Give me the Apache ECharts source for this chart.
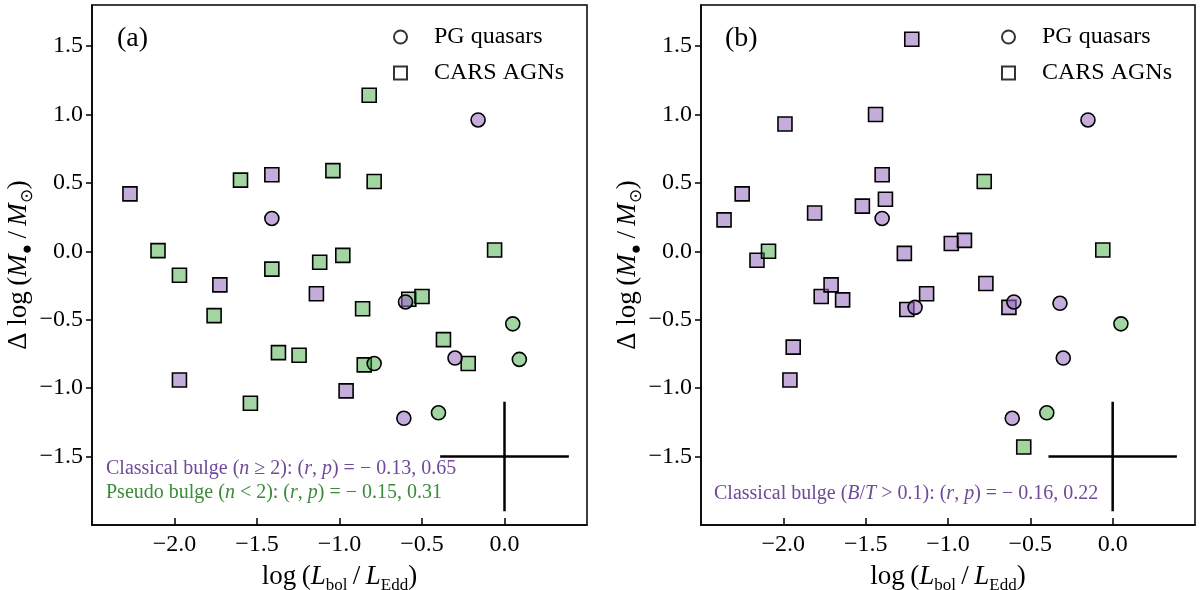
<!DOCTYPE html>
<html><head><meta charset="utf-8">
<script src="https://cdn.jsdelivr.net/npm/echarts@6/dist/echarts.min.js"></script>
<style>html,body{margin:0;padding:0;background:#fff}#c{width:1200px;height:590px}</style>
</head><body><div id="c"></div>
<script>
// ---- tick labels ----
const xTickLabels = [-2.0, -1.5, -1.0, -0.5, 0.0];
const yTickLabels = [-1.5, -1.0, -0.5, 0.0, 0.5, 1.0, 1.5];

// ---- panel (a) ----
const aSquaresClassical = [[-2.27,0.42],[-1.41,0.56],[-1.725,-0.245],[-1.14,-0.31],[-1.97,-0.94],[-0.96,-1.02]];
const aSquaresPseudo = [[-1.60,0.52],[-1.04,0.59],[-2.10,0.005],[-1.97,-0.175],[-1.41,-0.13],[-1.12,-0.08],[-0.98,-0.03],[-1.76,-0.47],[-1.37,-0.74],[-1.245,-0.76],[-1.54,-1.11],[-0.82,1.14],[-0.79,0.51],[-0.06,0.01],[-0.86,-0.42],[-0.58,-0.35],[-0.50,-0.33],[-0.37,-0.645],[-0.85,-0.83],[-0.22,-0.82]];
const aCirclesClassical = [[-1.41,0.24],[-0.60,-0.37],[-0.30,-0.78],[-0.16,0.96],[-0.61,-1.22]];
const aCirclesPseudo = [[-0.79,-0.82],[0.05,-0.53],[0.09,-0.79],[-0.40,-1.18]];

// ---- panel (b) ----
const bSquaresClassical = [[-2.36,0.23],[-2.25,0.42],[-1.99,0.93],[-2.16,-0.065],[-1.81,0.28],[-1.44,1.00],[-1.40,0.56],[-1.38,0.38],[-1.52,0.33],[-1.265,-0.015],[-1.77,-0.33],[-1.71,-0.245],[-1.64,-0.355],[-0.98,0.057],[-0.90,0.08],[-1.13,-0.31],[-1.25,-0.425],[-1.94,-0.70],[-1.96,-0.94],[-0.77,-0.235],[-0.63,-0.41],[-1.22,1.55]];
const bSquaresOther = [[-2.09,0.0],[-0.78,0.51],[-0.06,0.01],[-0.54,-1.43]];
const bCirclesClassical = [[-1.40,0.24],[-1.20,-0.41],[-0.60,-0.37],[-0.32,-0.38],[-0.30,-0.78],[-0.15,0.96],[-0.61,-1.22]];
const bCirclesOther = [[0.05,-0.53],[-0.40,-1.18]];

// ---- typical error bar ----
const errCenter = [0.0, -1.5];
const errHalf = [0.39, 0.40];

const F = 'Liberation Serif';
const PURPLE_FILL = 'rgba(148,103,189,0.55)';
const GREEN_FILL = 'rgba(44,160,44,0.44)';
const PURPLE_TXT = '#6e4a98';
const GREEN_TXT = '#3a8a3a';

function fmt(list){
  return function(v){
    if (!list.some(t => Math.abs(t - v) < 1e-9)) return '';
    if (Math.abs(v) < 1e-9) return '0.0';
    return v.toFixed(1).replace('-', '\u2212');
  };
}

const nameRich = {
  n: {fontFamily: F, fontSize: 27, color: '#000', lineHeight: 34},
  i: {fontFamily: F, fontSize: 27, fontStyle: 'italic', color: '#000', lineHeight: 34},
  s: {fontFamily: F, fontSize: 17, color: '#000', lineHeight: 16, verticalAlign: 'bottom'}
};
const yName = '{n|\u0394 log\u2009(}{i|M}{s|\u25CF}{n|\u2009/\u2009}{i|M}{s|\u2299}{n|)}';
const xName = '{n|log\u2009(}{i|L}{s|bol}{n|\u2009/\u2009}{i|L}{s|Edd}{n|)}';

function xAxis(gi){
  return {
    type: 'value', gridIndex: gi, min: -2.5, max: 0.5, interval: 0.5,
    axisLine: {onZero: false, lineStyle: {color: '#000', width: 1.5}},
    axisTick: {inside: true, length: 7, customValues: xTickLabels, lineStyle: {color: '#000', width: 1.5}},
    splitLine: {show: false},
    axisLabel: {customValues: xTickLabels, formatter: fmt(xTickLabels), fontFamily: F, fontSize: 24, color: '#000', margin: 8},
    name: xName, nameLocation: 'middle', nameGap: 35,
    nameTextStyle: {rich: nameRich}
  };
}
function yAxis(gi){
  return {
    type: 'value', gridIndex: gi, min: -2.0, max: 1.8, interval: 0.5,
    axisLine: {onZero: false, lineStyle: {color: '#000', width: 1.5}},
    axisTick: {inside: false, length: 6, customValues: yTickLabels, lineStyle: {color: '#000', width: 1.5}},
    splitLine: {show: false},
    axisLabel: {customValues: yTickLabels, formatter: fmt(yTickLabels), fontFamily: F, fontSize: 24, color: '#000', margin: 9},
    name: yName, nameLocation: 'middle', nameGap: 54, nameRotate: 90,
    nameTextStyle: {rich: nameRich}
  };
}

function scatter(gi, data, symbol, fill, nm){
  return {
    type: 'scatter', name: nm, xAxisIndex: gi, yAxisIndex: gi, data: data,
    symbol: symbol, symbolSize: 14,
    itemStyle: {color: fill, borderColor: '#000', borderWidth: 1.6, opacity: 1},
    emphasis: {disabled: true}, animation: false
  };
}
function cross(gi){
  const cx = errCenter[0], cy = errCenter[1];
  const base = {type: 'line', xAxisIndex: gi, yAxisIndex: gi, symbol: 'none', silent: true,
    animation: false, lineStyle: {color: '#000', width: 2.5}};
  return [
    Object.assign({}, base, {data: [[cx - errHalf[0], cy], [cx + errHalf[0], cy]]}),
    Object.assign({}, base, {data: [[cx, cy - errHalf[1]], [cx, cy + errHalf[1]]]})
  ];
}

const legendSeries = [
  {type: 'scatter', name: 'PG quasars', xAxisIndex: 0, yAxisIndex: 0, data: [], symbol: 'circle',
   itemStyle: {color: '#fff', borderColor: '#000', borderWidth: 1.6}},
  {type: 'scatter', name: 'CARS AGNs', xAxisIndex: 0, yAxisIndex: 0, data: [], symbol: 'rect',
   itemStyle: {color: '#fff', borderColor: '#000', borderWidth: 1.6}}
];
function legend(left){
  return {
    left: left, top: 19, orient: 'vertical', itemGap: 10,
    itemWidth: 13, itemHeight: 13, selectedMode: false,
    data: [{name: 'PG quasars', icon: 'circle'}, {name: 'CARS AGNs', icon: 'rect'}],
    textStyle: {fontFamily: F, fontSize: 24, color: '#000', lineHeight: 26, padding: [0, 0, 0, 22]}
  };
}

const annRich = (col) => ({
  c: {fontFamily: F, fontSize: 20, fill: col},
  ci: {fontFamily: F, fontSize: 20, fontStyle: 'italic', fill: col}
});

const gridBase = {top: 5, height: 520, show: true, borderColor: '#000', borderWidth: 1.5,
  backgroundColor: 'transparent', outerBoundsMode: 'none', containLabel: false};

const option = {
  backgroundColor: '#fff',
  animation: false,
  grid: [
    Object.assign({}, gridBase, {left: 92, width: 495}),
    Object.assign({}, gridBase, {left: 701, width: 494})
  ],
  xAxis: [xAxis(0), xAxis(1)],
  yAxis: [yAxis(0), yAxis(1)],
  legend: [legend(388), legend(996)],
  series: [
    ...legendSeries,
    scatter(0, aSquaresClassical, 'rect', PURPLE_FILL, 'a1'),
    scatter(0, aSquaresPseudo, 'rect', GREEN_FILL, 'a2'),
    scatter(0, aCirclesClassical, 'circle', PURPLE_FILL, 'a3'),
    scatter(0, aCirclesPseudo, 'circle', GREEN_FILL, 'a4'),
    ...cross(0),
    scatter(1, bSquaresClassical, 'rect', PURPLE_FILL, 'b1'),
    scatter(1, bSquaresOther, 'rect', GREEN_FILL, 'b2'),
    scatter(1, bCirclesClassical, 'circle', PURPLE_FILL, 'b3'),
    scatter(1, bCirclesOther, 'circle', GREEN_FILL, 'b4'),
    ...cross(1)
  ],
  graphic: [
    {type: 'text', left: 117, top: 25, style: {text: '(a)', fontFamily: F, fontSize: 28, fill: '#000'}},
    {type: 'text', left: 725, top: 25, style: {text: '(b)', fontFamily: F, fontSize: 28, fill: '#000'}},
    {type: 'text', left: 106, top: 459, style: {
      text: '{c|Classical bulge (}{ci|n}{c| \u2265 2): (}{ci|r}{c|, }{ci|p}{c|) = \u2212 0.13, 0.65}',
      rich: annRich(PURPLE_TXT)}},
    {type: 'text', left: 106, top: 483, style: {
      text: '{c|Pseudo bulge (}{ci|n}{c| < 2): (}{ci|r}{c|, }{ci|p}{c|) = \u2212 0.15, 0.31}',
      rich: annRich(GREEN_TXT)}},
    {type: 'text', left: 714, top: 484, style: {
      text: '{c|Classical bulge (}{ci|B}{c|/}{ci|T}{c| > 0.1): (}{ci|r}{c|, }{ci|p}{c|) = \u2212 0.16, 0.22}',
      rich: annRich(PURPLE_TXT)}}
  ]
};

const chart = echarts.init(document.getElementById('c'), null, {renderer: 'canvas'});
chart.setOption(option);
</script>
</body></html>
